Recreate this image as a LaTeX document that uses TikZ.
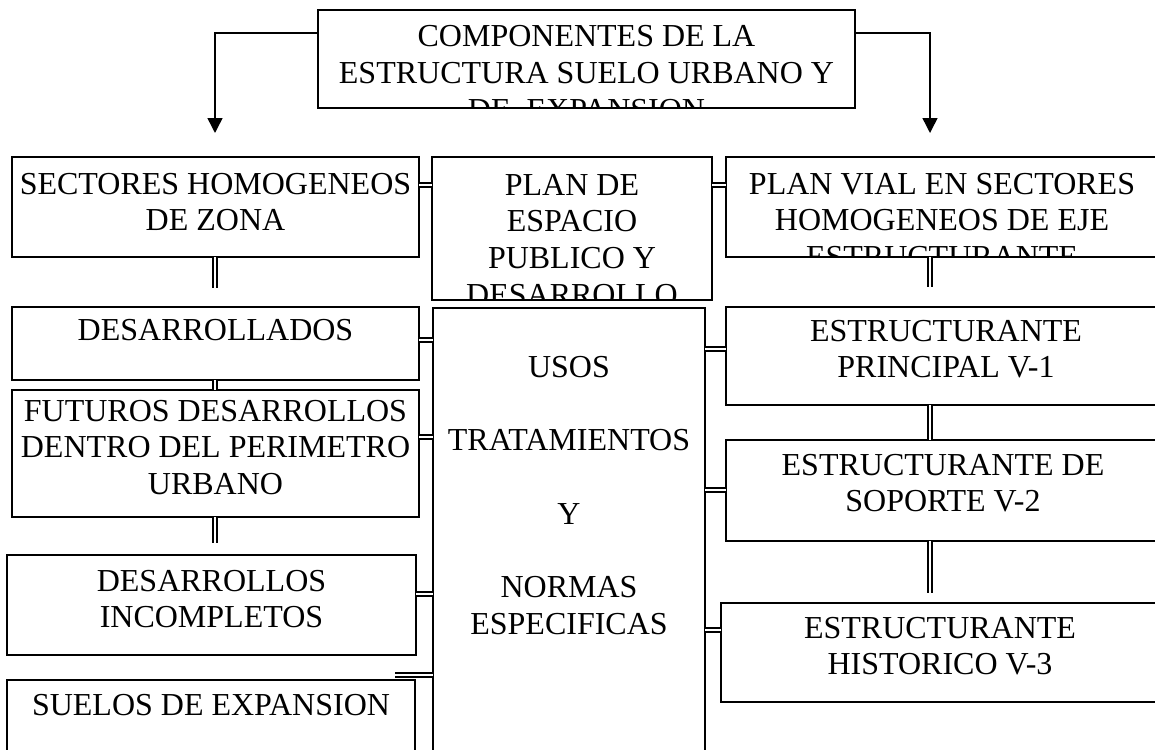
\documentclass[tikz,border=0pt]{standalone}
\usepackage{fontspec}
\setmainfont{Liberation Serif}
\usetikzlibrary{arrows.meta}
\newcommand\boxfont{\fontsize{32}{36.8}\selectfont}
\begin{document}
\begin{tikzpicture}[x=1pt,y=1pt,
  box/.style={draw, line width=1.3pt, rectangle, inner sep=0pt, outer sep=0pt, anchor=north west},
  tx/.style 2 args={path picture={\node[draw=none, minimum width=0pt, minimum height=0pt, anchor=north, align=center, inner sep=0pt, font=\boxfont] at ([yshift={25.76-#1}]path picture bounding box.north) {\strut #2};}},
  dbl/.style={double, double distance=2.2pt, line width=1.5pt},
  arr/.style={line width=1.5pt, -{Triangle[width=15pt,length=15pt]}}
]
\path[use as bounding box] (0,0) rectangle (1155,-749);
\clip (0,0) rectangle (1155,-749);

\node[box, minimum width=537, minimum height=98, tx={37}{COMPONENTES DE LA\\ESTRUCTURA SUELO URBANO Y\\DE~ EXPANSION}] (top) at (318,-10) {};

\node[box, minimum width=407, minimum height=100, tx={37}{SECTORES HOMOGENEOS\\DE ZONA}] (sect) at (12,-157) {};
\node[box, minimum width=280, minimum height=143, tx={38}{PLAN DE\\ESPACIO\\PUBLICO Y\\DESARROLLO}] (plan) at (432,-157) {};
\node[box, minimum width=432, minimum height=100, tx={37}{PLAN VIAL EN SECTORES\\HOMOGENEOS DE EJE\\ESTRUCTURANTE}] (vial) at (726,-157) {};

\node[box, minimum width=407, minimum height=73, tx={33}{DESARROLLADOS}] (desa) at (12,-307) {};
\node[box, minimum width=407, minimum height=127, tx={31}{FUTUROS DESARROLLOS\\DENTRO DEL PERIMETRO\\URBANO}] (fut) at (12,-390) {};
\node[box, minimum width=409, minimum height=100, tx={36}{DESARROLLOS\\INCOMPLETOS}] (inc) at (7,-555) {};
\node[box, minimum width=408, minimum height=120, tx={35}{SUELOS DE EXPANSION}] (suel) at (7,-680) {};

\node[box, minimum width=272, minimum height=500, tx={69}{USOS\\[36.6pt]TRATAMIENTOS\\[37.5pt]Y\\[36.4pt]NORMAS\\ESPECIFICAS}] (usos) at (433,-308) {};

\node[box, minimum width=440, minimum height=98, tx={34}{ESTRUCTURANTE\\PRINCIPAL V-1}] (p1) at (726,-307) {};
\node[box, minimum width=434, minimum height=101, tx={35}{ESTRUCTURANTE DE\\SOPORTE V-2}] (p2) at (726,-440) {};
\node[box, minimum width=438, minimum height=99, tx={35}{ESTRUCTURANTE\\HISTORICO V-3}] (p3) at (721,-603) {};

\coordinate (al) at (215,-133);
\coordinate (ar) at (930,-133);
\draw[arr] ([yshift=-23]top.north west) -| (al);
\draw[arr] ([yshift=-23]top.north east) -| (ar);

\draw[dbl] ([yshift=-28]sect.north east) -- ([yshift=-28]plan.north west);
\draw[dbl] ([yshift=-28]plan.north east) -- ([yshift=-28]vial.north west);

\draw[dbl] ([xshift=203]sect.south west) -- ++(0,-31);
\draw[dbl] ([xshift=203]desa.south west) -- ([xshift=203]fut.north west);
\draw[dbl] ([xshift=203]fut.south west) -- ++(0,-26);

\draw[dbl] ([yshift=-33]desa.north east) coordinate (c1) -- (c1 -| usos.west);
\draw[dbl] ([yshift=-47]fut.north east) coordinate (c2) -- (c2 -| usos.west);
\draw[dbl] ([yshift=-39]inc.north east) coordinate (c3) -- (c3 -| usos.west);
\draw[dbl] ([xshift=-20,yshift=5]suel.north east) coordinate (c4) -- (c4 -| usos.west);

\draw[dbl] ([yshift=-41]usos.north east) coordinate (r1) -- (r1 -| p1.west);
\draw[dbl] ([yshift=-182]usos.north east) coordinate (r2) -- (r2 -| p2.west);
\draw[dbl] ([yshift=-322]usos.north east) coordinate (r3) -- (r3 -| p3.west);

\draw[dbl] ([xshift=204]vial.south west) -- ++(0,-30);
\draw[dbl] ([xshift=204]p1.south west) -- ([xshift=204]p2.north west);
\draw[dbl] ([xshift=204]p2.south west) -- ++(0,-52);
\end{tikzpicture}
\end{document}
